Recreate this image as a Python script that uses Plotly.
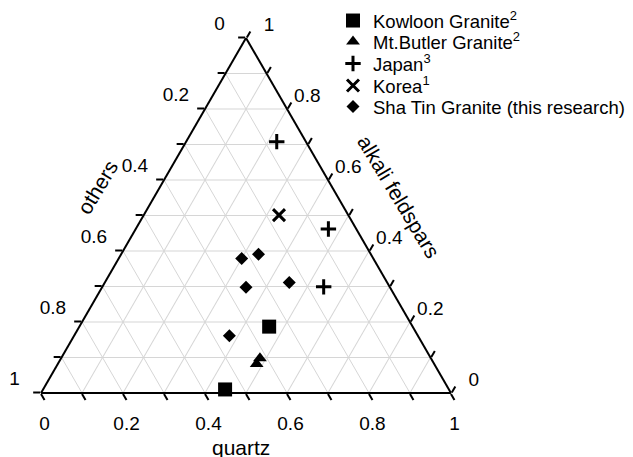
import plotly.graph_objects as go

# ---- data (ternary fractions) ----
series_names = ["Kowloon Granite<sup>2</sup>", "Mt.Butler Granite<sup>2</sup>", "Japan<sup>3</sup>",
                "Korea<sup>1</sup>", "Sha Tin Granite (this research)"]

kowloon_quartz = [0.463, 0.444]
kowloon_alkali = [0.187, 0.010]
kowloon_others = [0.350, 0.546]

butler_quartz = [0.485, 0.485]
butler_alkali = [0.098, 0.082]
butler_others = [0.417, 0.433]

japan_quartz = [0.221, 0.470, 0.540]
japan_alkali = [0.708, 0.462, 0.299]
japan_others = [0.071, 0.068, 0.161]

korea_quartz = [0.330]
korea_alkali = [0.501]
korea_others = [0.169]

shatin_quartz = [0.300, 0.335, 0.351, 0.450, 0.379]
shatin_alkali = [0.379, 0.391, 0.298, 0.311, 0.161]
shatin_others = [0.321, 0.274, 0.351, 0.239, 0.460]

tick_values = [0, 0.1, 0.2, 0.3, 0.4, 0.5, 0.6, 0.7, 0.8, 0.9, 1.0]
# each edge reads in the opposite sense of plotly's native axis
tick_labels_rev = ["1", "", "0.8", "", "0.6", "", "0.4", "", "0.2", "", "0"]

axis_titles = ["alkali feldspars", "others", "quartz"]

FONT = "Liberation Sans, Arial, sans-serif"
# the page body keeps an 8px margin: draw the figure 8px smaller, offset by it
OFF = 8
W, H = 633 - OFF, 457 - OFF

def px_x(x):
    return (x - OFF) / W

def px_y(y):
    return 1 - (y - OFF) / H

groups = [
    (kowloon_quartz, kowloon_alkali, kowloon_others, dict(symbol="square", size=14, color="black")),
    (butler_quartz, butler_alkali, butler_others, dict(symbol="triangle-up", size=12, color="black")),
    (japan_quartz, japan_alkali, japan_others, dict(symbol="cross-thin", size=11, color="black",
                                                    line=dict(width=3, color="black"))),
    (korea_quartz, korea_alkali, korea_others, dict(symbol="x-thin", size=12, color="black",
                                                    line=dict(width=3, color="black"))),
    (shatin_quartz, shatin_alkali, shatin_others, dict(symbol="diamond", size=10, color="black")),
]

legend_ids = ["legend", "legend2", "legend3", "legend4", "legend5"]
legend_rows_px = [21, 42, 64, 86, 107]

fig = go.Figure()
for name, (q, a, o, mk), lid in zip(series_names, groups, legend_ids):
    fig.add_trace(go.Scatterternary(
        a=a, b=o, c=q, mode="markers", name=name, marker=mk,
        legend=lid, cliponaxis=False, hoverinfo="skip", showlegend=True))

NB = "&nbsp;"

def left_labels():
    # end-anchored: trailing spaces push left; blank second line lifts text half a line
    out = []
    for t in tick_labels_rev:
        if not t:
            out.append("")
            continue
        pad = NB * (2 if len(t) == 1 else 1)
        out.append(t + pad + "<br>" + NB)
    return out

def right_labels():
    # start-anchored: leading spaces push right; lift then lower slightly
    out = []
    for t in tick_labels_rev:
        if not t:
            out.append("")
            continue
        pad = NB * (2 if len(t) == 1 else 0)
        out.append(pad + "<span style='baseline-shift:-7px'>" + t + "</span><br>" + NB)
    return out

def bottom_labels():
    return ["<span style='baseline-shift:-6px'>" + t + "</span>" if t else "" for t in tick_labels_rev]

def axis_style(ticktext):
    return dict(
        min=0, tickmode="array", tickvals=tick_values, ticktext=ticktext,
        ticks="outside", ticklen=7, tickwidth=1.5, tickcolor="black",
        showline=True, linecolor="black", linewidth=2,
        showgrid=True, gridcolor="#d6d6d6", gridwidth=1,
        tickfont=dict(family=FONT, size=19, color="black"),
        title=dict(text=""), layer="below traces")

layout = dict(
    width=W, height=H,
    margin=dict(l=0, r=0, t=0, b=0, autoexpand=False),
    paper_bgcolor="white",
    showlegend=True,
    font=dict(family=FONT, color="black"),
    ternary=dict(
        sum=1, bgcolor="white",
        domain=dict(x=[px_x(41), px_x(451)], y=[px_y(393), px_y(38)]),
        aaxis=axis_style(left_labels()),
        baxis=axis_style(bottom_labels()),
        caxis=axis_style(right_labels())),
    annotations=[
        dict(text=axis_titles[0], xref="paper", yref="paper", x=px_x(399), y=px_y(196),
             showarrow=False, textangle=59, font=dict(family=FONT, size=21, color="black"),
             xanchor="center", yanchor="middle"),
        dict(text=axis_titles[1], xref="paper", yref="paper", x=px_x(97), y=px_y(187),
             showarrow=False, textangle=-59, font=dict(family=FONT, size=21, color="black"),
             xanchor="center", yanchor="middle"),
        dict(text=axis_titles[2], xref="paper", yref="paper", x=px_x(241), y=px_y(447),
             showarrow=False, font=dict(family=FONT, size=21, color="black"),
             xanchor="center", yanchor="middle"),
    ],
)
for lid, ypx in zip(legend_ids, legend_rows_px):
    layout[lid] = dict(x=px_x(333), y=px_y(ypx), xanchor="left", yanchor="middle",
                       bgcolor="rgba(0,0,0,0)", borderwidth=0,
                       font=dict(family=FONT, size=18.5, color="black"))

fig.update_layout(**layout)
fig.write_html("out.html")
